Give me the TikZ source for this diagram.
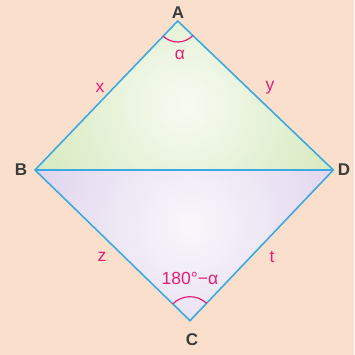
\documentclass[tikz,border=0pt]{standalone}
\usepackage{fontspec}
\setmainfont{Liberation Sans}
\definecolor{bgpeach}{HTML}{FAE0CC}
\definecolor{edgeblue}{HTML}{3CAAE1}
\definecolor{magentalbl}{HTML}{E61E78}
\definecolor{darktxt}{HTML}{3A3A3A}
\definecolor{greenfill}{HTML}{C8E2A8}
\definecolor{lilacfill}{HTML}{D6C6E6}
\begin{document}
\begin{tikzpicture}[x=1pt,y=1pt,
  vertexlbl/.style={text=darktxt,font=\fontsize{17}{17}\selectfont\bfseries,inner sep=0pt},
  sidelbl/.style={text=magentalbl,font=\fontsize{17.5}{17.5}\selectfont,inner sep=0pt},
  edgeline/.style={draw=edgeblue,line width=1.6pt,line join=miter},
  anglearc/.style={draw=magentalbl,line width=1.2pt}]
\fill[bgpeach] (0,0) rectangle (354,355);
\useasboundingbox (0,0) rectangle (354,355);
\coordinate (A) at (177.7,334);
\coordinate (B) at (35,185);
\coordinate (D) at (333.3,185);
\coordinate (C) at (190,34.3);
\begin{scope}
  \clip (A) -- (B) -- (D) -- cycle;
  \shade[inner color=white!85!greenfill, outer color=greenfill] (185,250) circle (230);
\end{scope}
\begin{scope}
  \clip (B) -- (D) -- (C) -- cycle;
  \shade[inner color=white!85!lilacfill, outer color=lilacfill] (190,130) circle (230);
\end{scope}
\draw[edgeline] (B) -- (D);
\draw[edgeline] (A) -- (B) -- (C) -- (D) -- cycle;
\draw[anglearc] (A) ++(226.2:21) arc[start angle=226.2,end angle=316.2,radius=21];
\draw[anglearc] (C) ++(46.4:24) arc[start angle=46.4,end angle=135.8,radius=24];
\node[vertexlbl] (lA) at (178,342) {A};
\node[vertexlbl] (lB) at (21,185) {B};
\node[vertexlbl] (lD) at (344,185) {D};
\node[vertexlbl] (lC) at (192,15) {C};
\node[sidelbl] (lx) at (100,267) {x};
\node[sidelbl] (ly) at (270,267) {y};
\node[sidelbl] (lz) at (102,98) {z};
\node[sidelbl] (lt) at (272,98) {t};
\node[sidelbl] (lalpha) at (180,300) {α};
\node[sidelbl] (lsupp) at (190,77) {180°−α};
\end{tikzpicture}
\end{document}
